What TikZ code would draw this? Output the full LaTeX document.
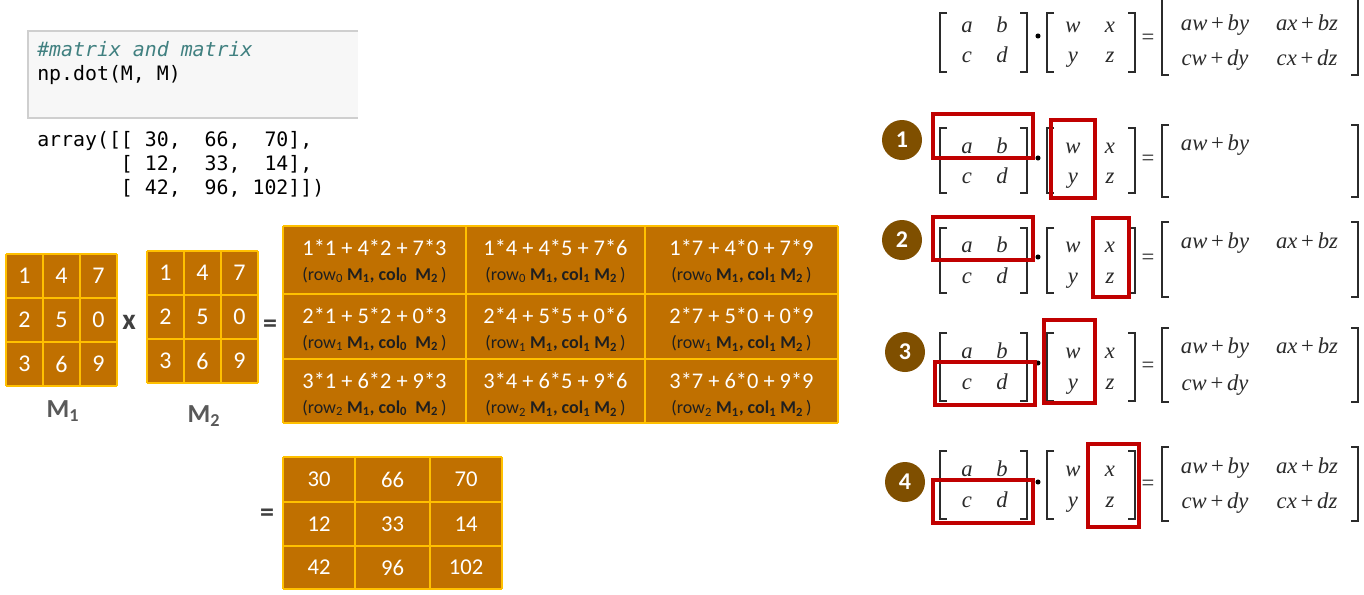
\documentclass[tikz,border=0pt]{standalone}
\usepackage{fontspec}
\setmainfont{Carlito}
\newfontfamily\codefont{DejaVu Sans Mono}
\newfontfamily\mathserif{Liberation Serif}
\definecolor{cellfill}{HTML}{C07000}
\definecolor{cellline}{HTML}{FFC000}
\definecolor{labelgrey}{HTML}{595959}
\definecolor{opgrey}{HTML}{404040}
\definecolor{codebg}{HTML}{F7F7F7}
\definecolor{codeline}{HTML}{CFCFCF}
\definecolor{comment}{HTML}{408080}
\definecolor{hlred}{HTML}{C00000}
\definecolor{stepbrown}{HTML}{7F4F00}
\definecolor{mathc}{HTML}{2B2B2B}
\definecolor{idxc}{HTML}{1F1F1F}
\newcommand\pl{\,{\upshape+}\,}
\newcommand\eqn[9]{%
 \draw[brk] (947,#2) -- (940,#2) -- (940,#3) -- (947,#3);
 \draw[brk] (1020,#2) -- (1027,#2) -- (1027,#3) -- (1020,#3);
 \draw[brk] (1054,#2) -- (1047,#2) -- (1047,#3) -- (1054,#3);
 \draw[brk] (1128,#2) -- (1135,#2) -- (1135,#3) -- (1128,#3);
 \draw[brk] (1169,#8) -- (1162,#8) -- (1162,#9) -- (1169,#9);
 \draw[brk] (1351,#8) -- (1358,#8) -- (1358,#9) -- (1351,#9);
 \node[mth] (#1a) at (967,#4) {a};
 \node[mth] (#1b) at (1002,#4) {b};
 \node[mth] (#1c) at (967,#5) {c};
 \node[mth] (#1d) at (1002,#5) {d};
 \node[mth] (#1w) at (1073,#4) {w};
 \node[mth] (#1x) at (1110,#4) {x};
 \node[mth] (#1y) at (1073,#5) {y};
 \node[mth] (#1z) at (1110,#5) {z};
 \node[dotn] (#1dot) at (1038,#6) {};
 \node[eqsign] (#1eq) at (1148,#7) {=};
}
\begin{document}
\begin{tikzpicture}[x=0.75pt,y=-0.75pt,
  cellgrid/.style={draw=cellline, line width=1.5pt, line cap=square},
  celltxt/.style={text=white, inner sep=0pt, font=\fontsize{18}{21}\selectfont},
  exprtxt/.style={text=white, inner sep=0pt, font=\fontsize{16.8}{19}\selectfont},
  idxtxt/.style={text=idxc, inner sep=0pt, font=\fontsize{13.5}{16}\selectfont},
  codetxt/.style={anchor=base west, inner sep=0pt, font=\codefont\fontsize{14.9}{17}\selectfont},
  optxt/.style={text=opgrey, inner sep=0pt, font=\bfseries\fontsize{22}{24}\selectfont},
  mlabel/.style={text=labelgrey, anchor=base, inner sep=0pt, font=\bfseries\fontsize{19.5}{22}\selectfont},
  mth/.style={anchor=base, inner sep=0pt, text=mathc, font=\mathserif\itshape\fontsize{17}{19}\selectfont},
  eqsign/.style={inner sep=0pt, text=mathc, font=\mathserif\fontsize{17}{19}\selectfont},
  dotn/.style={circle, fill=black, minimum size=3.8pt, inner sep=0pt},
  brk/.style={draw=mathc, line width=1.1pt},
  hlbox/.style={draw=hlred, line width=2.3pt},
  stepcirc/.style={circle, fill=stepbrown, minimum size=30pt, inner sep=0pt, text=white, font=\bfseries\fontsize{18}{20}\selectfont},
]
\useasboundingbox (0,0) rectangle (1364,594);
\fill[white] (0,0) rectangle (1364,594);

% ---------- code cell ----------
\fill[codebg] (28,31) rectangle (358,118);
\draw[codeline, line width=0.9pt] (358,31) -- (28,31) -- (28,118) -- (358,118);
\node[codetxt, text=comment] (c1) at (37,56) {\itshape\#matrix~and~matrix};
\node[codetxt] (c2) at (37,80) {np.dot(M,~M)};
\node[codetxt] (o1) at (37,146) {array([[~30,~~66,~~70],};
\node[codetxt] (o2) at (37,170) {~~~~~~~[~12,~~33,~~14],};
\node[codetxt] (o3) at (37,194) {~~~~~~~[~42,~~96,~102]])};

% ---------- M1 ----------
\fill[cellfill] (6,254) rectangle (117,386);
\foreach \xx in {6,43,80,117} \draw[cellgrid] (\xx,254) -- (\xx,386);
\foreach \yy in {254,298,342,386} \draw[cellgrid] (6,\yy) -- (117,\yy);
\foreach \v [count=\i from 0] in {1,4,7,2,5,0,3,6,9}{
  \pgfmathtruncatemacro\cc{mod(\i,3)}
  \pgfmathtruncatemacro\rr{div(\i,3)}
  \node[celltxt] (ma-\rr-\cc) at ({24.5+37*\cc},{276+44*\rr}) {\v};
}
\node[mlabel] (m1) at (63,417) {M\textsubscript{1}};

\node[optxt] (times) at (129,322) {x};

% ---------- M2 ----------
\fill[cellfill] (147,251) rectangle (258,383);
\foreach \xx in {147,184,221,258} \draw[cellgrid] (\xx,251) -- (\xx,383);
\foreach \yy in {251,295,339,383} \draw[cellgrid] (147,\yy) -- (258,\yy);
\foreach \v [count=\i from 0] in {1,4,7,2,5,0,3,6,9}{
  \pgfmathtruncatemacro\cc{mod(\i,3)}
  \pgfmathtruncatemacro\rr{div(\i,3)}
  \node[celltxt] (mb-\rr-\cc) at ({165.5+37*\cc},{273+44*\rr}) {\v};
}
\node[mlabel] (m2) at (204,422) {M\textsubscript{2}};

\node[optxt, font=\bfseries\fontsize{21}{24}\selectfont] (eqa) at (270,326) {=};

% ---------- expanded product table ----------
\fill[cellfill] (283,226) rectangle (838,423);
\foreach \xx in {283,466,645,838} \draw[cellgrid] (\xx,226) -- (\xx,423);
\foreach \yy in {226,294,359,423} \draw[cellgrid] (283,\yy) -- (838,\yy);

\node[exprtxt] (e00) at (374.5,248) {1*1 + 4*2 + 7*3};
\node[idxtxt]  (i00) at (374.5,275) {(row\textsubscript{0} \textbf{M\textsubscript{1}, col\textsubscript{0}~~M\textsubscript{2}}\,)};
\node[exprtxt] (e01) at (555.5,248) {1*4 + 4*5 + 7*6};
\node[idxtxt]  (i01) at (555.5,275) {(row\textsubscript{0} \textbf{M\textsubscript{1}, col\textsubscript{1} M\textsubscript{2}}\,)};
\node[exprtxt] (e02) at (741.5,248) {1*7 + 4*0 + 7*9};
\node[idxtxt]  (i02) at (741.5,275) {(row\textsubscript{0} \textbf{M\textsubscript{1}, col\textsubscript{1} M\textsubscript{2}}\,)};

\node[exprtxt] (e10) at (374.5,316) {2*1 + 5*2 + 0*3};
\node[idxtxt]  (i10) at (374.5,343) {(row\textsubscript{1} \textbf{M\textsubscript{1}, col\textsubscript{0}~~M\textsubscript{2}}\,)};
\node[exprtxt] (e11) at (555.5,316) {2*4 + 5*5 + 0*6};
\node[idxtxt]  (i11) at (555.5,343) {(row\textsubscript{1} \textbf{M\textsubscript{1}, col\textsubscript{1} M\textsubscript{2}}\,)};
\node[exprtxt] (e12) at (741.5,316) {2*7 + 5*0 + 0*9};
\node[idxtxt]  (i12) at (741.5,343) {(row\textsubscript{1} \textbf{M\textsubscript{1}, col\textsubscript{1} M\textsubscript{2}}\,)};

\node[exprtxt] (e20) at (374.5,381) {3*1 + 6*2 + 9*3};
\node[idxtxt]  (i20) at (374.5,408) {(row\textsubscript{2} \textbf{M\textsubscript{1}, col\textsubscript{0}~~M\textsubscript{2}}\,)};
\node[exprtxt] (e21) at (555.5,381) {3*4 + 6*5 + 9*6};
\node[idxtxt]  (i21) at (555.5,408) {(row\textsubscript{2} \textbf{M\textsubscript{1}, col\textsubscript{1} M\textsubscript{2}}\,)};
\node[exprtxt] (e22) at (741.5,381) {3*7 + 6*0 + 9*9};
\node[idxtxt]  (i22) at (741.5,408) {(row\textsubscript{2} \textbf{M\textsubscript{1}, col\textsubscript{1} M\textsubscript{2}}\,)};

% ---------- result table ----------
\node[optxt, font=\bfseries\fontsize{21}{24}\selectfont] (eqb) at (267,515) {=};
\fill[cellfill] (283,457) rectangle (502,589);
\foreach \xx in {283,355,430,502} \draw[cellgrid] (\xx,457) -- (\xx,589);
\foreach \yy in {457,502,546,589} \draw[cellgrid] (283,\yy) -- (502,\yy);
\foreach \v/\px/\py/\nm in {30/319/479.5/r00, 66/392.5/479.5/r01, 70/466/479.5/r02,
                            12/319/524/r10, 33/392.5/524/r11, 14/466/524/r12,
                            42/319/567.5/r20, 96/392.5/567.5/r21, 102/466/567.5/r22}{
  \node[celltxt, font=\fontsize{17}{19}\selectfont] (\nm) at (\px,\py) {\v};
}

% ---------- right side: 2x2 products ----------
% top equation
\eqn{t}{13}{72}{32}{62}{36}{39}{-4}{75}
\node[mth] (tr1) at (1215,30) {aw\pl by};
\node[mth] (tr2) at (1307,30) {ax\pl bz};
\node[mth] (tr3) at (1215,65) {cw\pl dy};
\node[mth] (tr4) at (1307,65) {cx\pl dz};

% step 1
\eqn{p}{128}{193}{153}{183}{158}{160}{125}{197}
\node[mth] (pr1) at (1215,150) {aw\pl by};
\draw[hlbox] (933,114) rectangle (1033,158);
\draw[hlbox] (1051,120) rectangle (1095,198);
\node[stepcirc] (s1) at (902,140) {1};

% step 2
\eqn{q}{228}{293}{252}{283}{257}{259}{222}{297}
\node[mth] (qr1) at (1215,248) {aw\pl by};
\node[mth] (qr2) at (1307,248) {ax\pl bz};
\draw[hlbox] (933,217) rectangle (1033,260);
\draw[hlbox] (1093,218) rectangle (1129,297);
\node[stepcirc] (s2) at (902,240) {2};

% step 3
\eqn{u}{333}{401}{358}{389}{363}{367}{328}{402}
\node[mth] (ur1) at (1215,353) {aw\pl by};
\node[mth] (ur2) at (1307,353) {ax\pl bz};
\node[mth] (ur3) at (1215,390) {cw\pl dy};
\draw[hlbox] (935,362) rectangle (1035,405);
\draw[hlbox] (1044,320) rectangle (1095,403);
\node[stepcirc] (s3) at (905,352) {3};

% step 4
\eqn{v}{451}{519}{476}{507}{482}{485}{447}{521}
\node[mth] (vr1) at (1215,473) {aw\pl by};
\node[mth] (vr2) at (1307,473) {ax\pl bz};
\node[mth] (vr3) at (1215,508) {cw\pl dy};
\node[mth] (vr4) at (1307,508) {cx\pl dz};
\draw[hlbox] (933,480) rectangle (1033,523);
\draw[hlbox] (1088,444) rectangle (1139,527);
\node[stepcirc] (s4) at (905,482) {4};
\end{tikzpicture}
\end{document}
